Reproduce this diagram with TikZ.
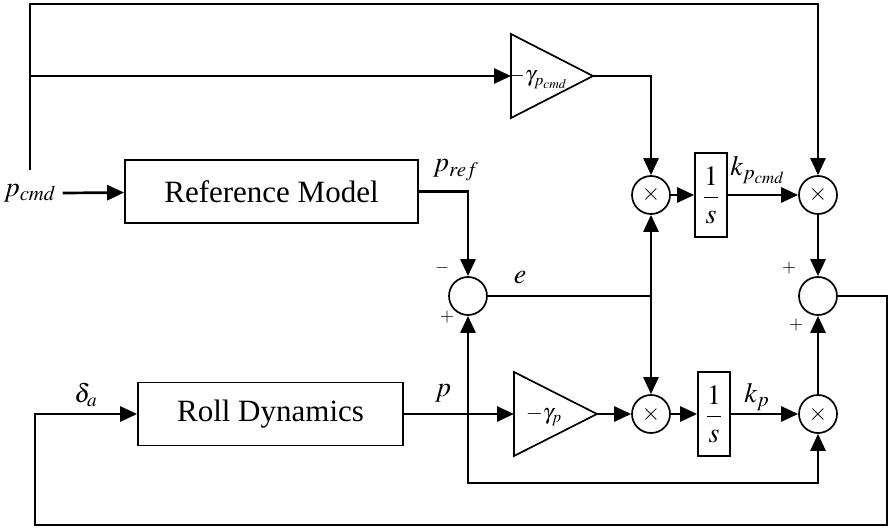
\documentclass[tikz,border=0pt]{standalone}
\usepackage{mathptmx}
\usepackage{fontspec}
\setmainfont{Liberation Serif}
\usetikzlibrary{arrows.meta}
\begin{document}
\begin{tikzpicture}[x=0.5pt,y=-0.5pt,
  wire/.style={line width=1.35pt},
  feed/.style={wire,-{Triangle[length=8.5pt,width=7.5pt]}},
  blk/.style={draw,line width=0.85pt,inner sep=0pt,font=\fontsize{15.5}{18}\selectfont},
  intg/.style={blk,minimum width=16pt,minimum height=42pt,font=\fontsize{14}{16}\selectfont},
  junc/.style={circle,draw,line width=0.85pt,minimum size=19pt,inner sep=0pt,font=\fontsize{12}{14}\selectfont},
  lbl/.style={inner sep=0pt,font=\fontsize{14}{16}\selectfont},
  sgn/.style={inner sep=0pt,font=\fontsize{9}{10}\selectfont}]
\useasboundingbox (0,0) rectangle (889,529);

\node[blk,minimum width=146.5pt,minimum height=31.5pt] (ref) at (271.5,191.5) {Reference Model};
\node[blk,minimum width=132.5pt,minimum height=31.5pt] (roll) at (270.5,414) {Roll Dynamics};

\draw[line width=0.85pt] (511,34) -- (593,76) coordinate (gcOut) -- (511,118) -- cycle;
\draw[line width=0.85pt] (514,372) -- (597,414) coordinate (gpOut) -- (514,456) -- cycle;
\coordinate (gcIn) at (511,76);
\coordinate (gpIn) at (514,414);
\node[inner sep=0pt,font=\fontsize{11}{13}\selectfont] (gcL) at (538,79) {$-\gamma_{p_{cmd}}$};
\node[inner sep=0pt,font=\fontsize{11}{13}\selectfont] (gpL) at (544,416) {$-\gamma_{p}$};

\node[junc] (mc) at (651,195) {$\times$};
\node[junc] (mk) at (818,195) {$\times$};
\node[junc] (mp) at (651,414) {$\times$};
\node[junc] (mkp) at (818,414) {$\times$};
\node[junc] (se) at (468,296) {};
\node[junc] (su) at (818,296) {};
\node[intg] (ic) at (711,195) {$\displaystyle\frac{1}{s}$};
\node[intg] (ip) at (714,414) {$\displaystyle\frac{1}{s}$};

\node[lbl] (pcmd) at (30,193) {$p_{cmd}$};
\node[lbl] (pref) at (456,170) {$p_{ref}$};
\node[lbl] (e) at (520,278) {$e$};
\node[lbl] (p) at (443,393) {$p$};
\node[lbl,font=\fontsize{13}{15}\selectfont] (da) at (86,395) {$\delta_a$};
\node[lbl] (kc) at (758,170) {$k_{p_{cmd}}$};
\node[lbl] (kp) at (757,397) {$k_p$};
\node[sgn] (sA) at (442,268) {$-$};
\node[sgn] (sB) at (447,317) {$+$};
\node[sgn] (sC) at (789,268) {$+$};
\node[sgn] (sD) at (796,325) {$+$};

\coordinate (cmdUp) at (30,170);
\coordinate (topL) at (30,4);
\coordinate (midL) at (30,76);
\coordinate (eJ) at (651,296);
\coordinate (pJ) at (468,414);
\coordinate (lowJ) at (468,483);
\coordinate (outR) at (887,525);
\coordinate (outL) at (35,525);

\draw[feed] ([xshift=3pt]pcmd.east) -- (ref);
\draw[feed] (cmdUp) -- (topL) -| (mk);
\draw[feed] (midL) -- (gcIn);
\draw[feed] (gcOut) -| (mc);
\draw[feed] (ref) -| (se);
\draw[wire] (se) -- (eJ);
\draw[feed] (eJ) -- (mc);
\draw[feed] (eJ) -- (mp);
\draw[feed] (mc) -- (ic);
\draw[feed] (ic) -- (mk);
\draw[feed] (mk) -- (su);
\draw[wire] (roll) -- (pJ);
\draw[feed] (pJ) -- (se);
\draw[feed] (pJ) -- (gpIn);
\draw[feed] (gpOut) -- (mp);
\draw[feed] (mp) -- (ip);
\draw[feed] (ip) -- (mkp);
\draw[feed] (pJ) -- (lowJ) -| (mkp);
\draw[feed] (mkp) -- (su);
\draw[feed] (su) -| (outR) -- (outL) |- (roll);
\end{tikzpicture}
\end{document}
